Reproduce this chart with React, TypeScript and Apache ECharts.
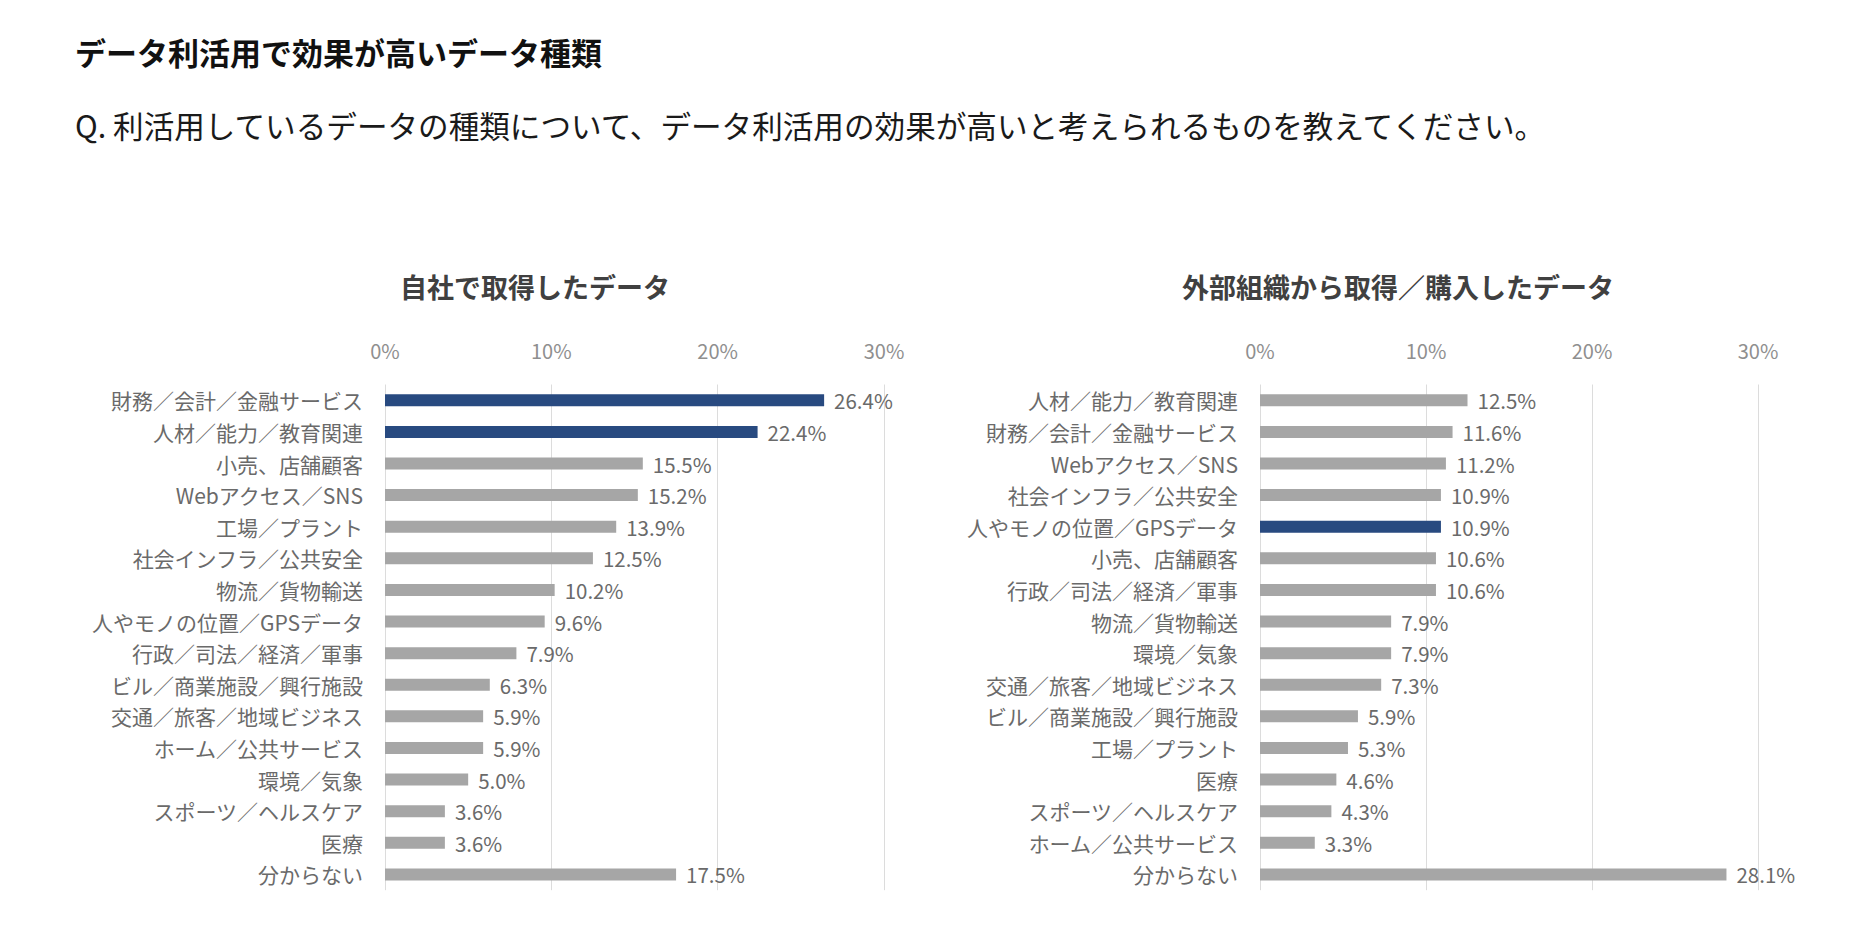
import React, { useEffect, useRef } from "react";
import * as echarts from "echarts";

const leftCategories = [
  "財務／会計／金融サービス",
  "人材／能力／教育関連",
  "小売、店舗顧客",
  "Webアクセス／SNS",
  "工場／プラント",
  "社会インフラ／公共安全",
  "物流／貨物輸送",
  "人やモノの位置／GPSデータ",
  "行政／司法／経済／軍事",
  "ビル／商業施設／興行施設",
  "交通／旅客／地域ビジネス",
  "ホーム／公共サービス",
  "環境／気象",
  "スポーツ／ヘルスケア",
  "医療",
  "分からない",
];
const leftValues = [26.4, 22.4, 15.5, 15.2, 13.9, 12.5, 10.2, 9.6, 7.9, 6.3, 5.9, 5.9, 5.0, 3.6, 3.6, 17.5];
const leftHighlight = ["財務／会計／金融サービス", "人材／能力／教育関連"];

const rightCategories = [
  "人材／能力／教育関連",
  "財務／会計／金融サービス",
  "Webアクセス／SNS",
  "社会インフラ／公共安全",
  "人やモノの位置／GPSデータ",
  "小売、店舗顧客",
  "行政／司法／経済／軍事",
  "物流／貨物輸送",
  "環境／気象",
  "交通／旅客／地域ビジネス",
  "ビル／商業施設／興行施設",
  "工場／プラント",
  "医療",
  "スポーツ／ヘルスケア",
  "ホーム／公共サービス",
  "分からない",
];
const rightValues = [12.5, 11.6, 11.2, 10.9, 10.9, 10.6, 10.6, 7.9, 7.9, 7.3, 5.9, 5.3, 4.6, 4.3, 3.3, 28.1];
const rightHighlight = ["人やモノの位置／GPSデータ"];

const axisTicks = [0, 10, 20, 30];

const mainTitle = "データ利活用で効果が高いデータ種類";
const questionText = "Q. 利活用しているデータの種類について、データ利活用の効果が高いと考えられるものを教えてください。";
const leftTitle = "自社で取得したデータ";
const rightTitle = "外部組織から取得／購入したデータ";

const NAVY = "#284a80";
const GRAY = "#a6a6a6";
const FONT = "'Noto Sans CJK JP', 'Noto Sans', sans-serif";

function buildData(cats: string[], vals: number[], hi: string[]) {
  return vals.map((v, i) => ({
    value: v,
    itemStyle: { color: hi.includes(cats[i]) ? NAVY : GRAY },
  }));
}

export default function App() {
  const ref = useRef<HTMLDivElement>(null);

  useEffect(() => {
    if (!ref.current) return;
    const chart = echarts.init(ref.current, undefined, { renderer: "svg" });
    const gridTop = 384.5;
    const gridHeight = 505.7;
    const xAxisCommon = (gridIndex: number) => ({
      type: "value" as const,
      gridIndex,
      position: "top" as const,
      min: axisTicks[0],
      max: axisTicks[axisTicks.length - 1],
      interval: 10,
      axisLine: { show: false },
      axisTick: { show: false },
      splitLine: { show: true, lineStyle: { color: "#dcdcdc", width: 1 } },
      axisLabel: {
        formatter: "{value}%",
        color: "#8f8f8f",
        fontSize: 20,
        fontFamily: FONT,
        margin: 24,
      },
    });
    const yAxisCommon = (gridIndex: number, cats: string[]) => ({
      type: "category" as const,
      gridIndex,
      data: cats,
      inverse: true,
      axisLine: { show: false },
      axisTick: { show: false },
      splitLine: { show: false },
      axisLabel: {
        color: "#6a6a6a",
        fontSize: 21,
        fontFamily: FONT,
        margin: 22,
      },
    });
    const seriesCommon = {
      type: "bar" as const,
      barWidth: 12,
      label: {
        show: true,
        position: "right" as const,
        distance: 10,
        color: "#6a6a6a",
        fontSize: 20.5,
        fontFamily: FONT,
        formatter: (p: any) => `${Number(p.value).toFixed(1)}%`,
      },
    };
    chart.setOption({
      animation: false,
      backgroundColor: "#ffffff",
      textStyle: { fontFamily: FONT },
      grid: [
        { left: 385, top: gridTop, width: 499, height: gridHeight },
        { left: 1260, top: gridTop, width: 498, height: gridHeight },
      ],
      xAxis: [xAxisCommon(0), xAxisCommon(1)],
      yAxis: [yAxisCommon(0, leftCategories), yAxisCommon(1, rightCategories)],
      series: [
        { ...seriesCommon, xAxisIndex: 0, yAxisIndex: 0, data: buildData(leftCategories, leftValues, leftHighlight) },
        { ...seriesCommon, xAxisIndex: 1, yAxisIndex: 1, data: buildData(rightCategories, rightValues, rightHighlight) },
      ],
      graphic: [
        {
          type: "text",
          x: 75,
          y: 51,
          style: {
            text: mainTitle,
            fill: "#111111",
            font: `bold 31px ${FONT}`,
            align: "left",
            verticalAlign: "middle",
          },
        },
        {
          type: "text",
          x: 75,
          y: 125,
          style: {
            text: questionText,
            fill: "#1a1a1a",
            font: `30.6px ${FONT}`,
            align: "left",
            verticalAlign: "middle",
          },
        },
        {
          type: "text",
          x: 535,
          y: 286,
          style: {
            text: leftTitle,
            fill: "#404040",
            font: `bold 27px ${FONT}`,
            align: "center",
            verticalAlign: "middle",
          },
        },
        {
          type: "text",
          x: 1398,
          y: 286,
          style: {
            text: rightTitle,
            fill: "#404040",
            font: `bold 27px ${FONT}`,
            align: "center",
            verticalAlign: "middle",
          },
        },
      ],
    });
    return () => chart.dispose();
  }, []);

  return (
    <div
      ref={ref}
      style={{ position: "absolute", left: 0, top: 0, width: 1868, height: 942, background: "#fff" }}
    />
  );
}
